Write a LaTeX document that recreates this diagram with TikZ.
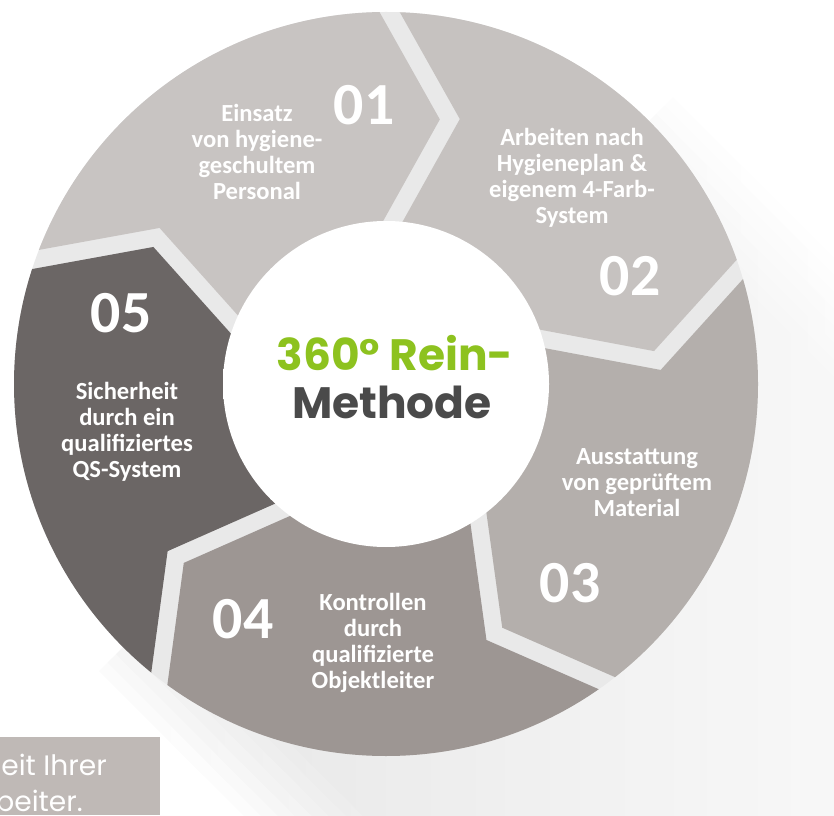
\documentclass[tikz,border=0pt]{standalone}
\usepackage{fontspec}
\setmainfont{Carlito}
\newfontfamily\headfont{Poppins}
\usetikzlibrary{calc}

\definecolor{segA}{HTML}{C8C4C2}
\definecolor{segB}{HTML}{C6C2C0}
\definecolor{segC}{HTML}{B4AFAC}
\definecolor{segD}{HTML}{9D9693}
\definecolor{segE}{HTML}{6B6665}
\definecolor{gapgrey}{HTML}{E9E9E9}
\definecolor{reingreen}{HTML}{8DC21F}
\definecolor{methgrey}{HTML}{4A4A4A}
\definecolor{boxgrey}{HTML}{BFB9B6}

\pgfdeclareradialshading{hubglow}{\pgfpoint{0bp}{0bp}}{color(0bp)=(white); color(32bp)=(white); color(50bp)=(gray!13)}

\newcommand{\hubr}{163}
\newcommand{\ringr}{372}
\newcommand{\tipr}{270}
\newcommand{\tipd}{12.5}
\newcommand{\gapw}{20}

% one arrow piece of the ring: trailing angle, leading angle, colour
\newcommand{\ringpart}[3]{%
  \path ($(C)+(#1:\hubr)+({#1-90}:\gapw)$) coordinate (ti)
        ($(C)+({#1-\tipd}:\tipr)+({#1-90}:\gapw)$) coordinate (tm)
        ($(C)+(#1:\ringr)+({#1-90}:\gapw)$) coordinate (to)
        ($(C)+(#2:\hubr)$) coordinate (li)
        ($(C)+({#2-\tipd}:\tipr)$) coordinate (lm)
        ($(C)+(#2:\ringr)$) coordinate (lo);
  \fill[#3] (C) -- ($(tm)!1.4!(ti)$) -- (tm) -- ($(tm)!1.8!(to)$)
    -- ($(C)+({(#1+#2)/2}:620)$) -- ($(lm)!1.8!(lo)$) -- (lm)
    -- ($(lm)!1.4!(li)$) -- cycle;
}

\begin{document}
\begin{tikzpicture}[x=0.02cm, y=0.02cm,
    seglabel/.style={text=white, align=center, font=\bfseries\fontsize{14}{14.8}\selectfont},
    segnum/.style={text=white, font=\bfseries\fontsize{34}{34}\selectfont},
    boxtext/.style={anchor=base west, inner sep=0, text=white, font=\headfont\fontsize{16}{16}\selectfont}]
    \clip (0,0) rectangle (834,815);
    \coordinate (C) at (386,431);

    % soft long shadow
    \begin{scope}[shift={(C)}, rotate=-45]
      \foreach \s in {0,...,7}
        \shade[left color=gray!50, right color=white, fill opacity=0.06]
          (0,{-\ringr+50-12*\s}) rectangle (700,{\ringr-50+12*\s});
    \end{scope}

    \fill[gapgrey] (C) circle (\ringr);
    \begin{scope}
      \clip (C) circle (\ringr);
      \ringpart{162}{91}{segA}
      \ringpart{91}{19.5}{segB}
      \ringpart{19.5}{-52}{segC}
      \ringpart{-52}{-126}{segD}
      \ringpart{234}{162}{segE}
    \end{scope}
    \shade[shading=hubglow] (C) circle (\hubr);

    \node[segnum] (n1) at (364,710) {01};
    \node[seglabel] (t1) at (257,663) {Einsatz\\von hygiene-\\geschultem\\Personal};
    \node[segnum] (n2) at (630,539) {02};
    \node[seglabel] (t2) at (572,637) {Arbeiten nach\\Hygieneplan \&\\eigenem 4-Farb-\\System};
    \node[segnum] (n3) at (570,232) {03};
    \node[seglabel] (t3) at (637,332) {Ausstattung\\von geprüftem\\Material};
    \node[segnum] (n4) at (243,196) {04};
    \node[seglabel] (t4) at (373,172) {Kontrollen\\durch\\qualifizierte\\Objektleiter};
    \node[segnum] (n5) at (121,502) {05};
    \node[seglabel] (t5) at (127,383) {Sicherheit\\durch ein\\qualifiziertes\\QS-System};

    \node[text=reingreen, font=\headfont\bfseries\fontsize{25}{25}\selectfont] (rein) at (395,462) {360° Rein-};
    \node[text=methgrey, font=\headfont\bfseries\fontsize{25}{25}\selectfont] (meth) at (392,413) {Methode};

    % cut off text box
    \fill[boxgrey] (0,0) rectangle (160,78);
    \node[boxtext] (box1) at (1,40) {eit Ihrer};
    \node[boxtext] (box2) at (-5,4) {beiter.};
\end{tikzpicture}
\end{document}
